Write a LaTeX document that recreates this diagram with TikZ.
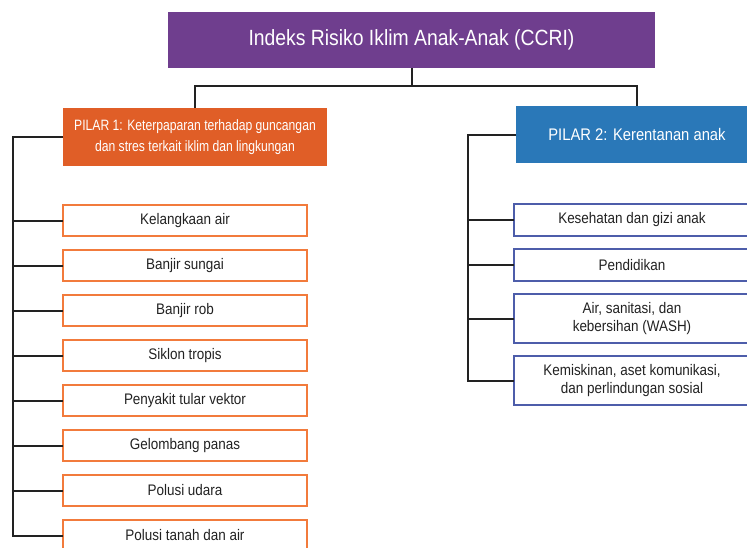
\documentclass[tikz,border=0pt]{standalone}
\usepackage{fontspec}
\setmainfont{Liberation Sans}[FakeStretch=0.88]
\newfontfamily\narrowsans{Liberation Sans}[FakeStretch=0.81]
\usetikzlibrary{positioning}
\definecolor{CcriPurple}{HTML}{6F3E8E}
\definecolor{PillarOrange}{HTML}{E05E27}
\definecolor{PillarBlue}{HTML}{2A78B8}
\definecolor{ItemOrange}{HTML}{F27B3C}
\definecolor{ItemBlue}{HTML}{4D5DAA}
\definecolor{LinkGray}{HTML}{222222}
\definecolor{TextGray}{HTML}{222222}

\begin{document}
\begin{tikzpicture}[x=1pt, y=-1pt, node distance=14pt,
  every node/.style={font=\fontsize{15.3}{18}\selectfont, align=center, inner sep=0pt, outer sep=0pt},
  link/.style={draw=LinkGray, line width=2pt},
  orangeitem/.style={draw=ItemOrange, line width=1.8pt, fill=white, text=TextGray, minimum width=244pt, minimum height=31pt},
  blueitem/.style={draw=ItemBlue, line width=1.8pt, fill=white, text=TextGray, minimum width=236pt, minimum height=32pt}]
  \useasboundingbox (0,0) rectangle (747,547);
  \clip (0,0) rectangle (747,547);
  % top and the two pillars
  \node[fill=CcriPurple, text=white, minimum width=487pt, minimum height=56pt, font=\fontsize{22}{26}\selectfont] (ccri) at (411.5,40) {Indeks Risiko Iklim Anak-Anak (CCRI)};
  \node[fill=PillarOrange, text=white, minimum width=264pt, minimum height=58pt, font=\narrowsans\fontsize{15}{21}\selectfont] (pilar1) at (195,137) {PILAR 1: Keterpaparan terhadap guncangan\\dan stres terkait iklim dan lingkungan};
  \node[fill=PillarBlue, text=white, minimum width=242pt, minimum height=57pt, font=\fontsize{16.8}{20}\selectfont] (pilar2) at (637,134.5) {PILAR 2: Kerentanan anak};
  \coordinate (split) at (411.5,86);
  \draw[link] (ccri.south) -- (split);
  \draw[link] (pilar1.north) |- (split) -| (pilar2.north);
  % pilar 1 items
  \node[orangeitem] (l1) at (185,220.5) {Kelangkaan air};
  \node[orangeitem, below=of l1] (l2) {Banjir sungai};
  \node[orangeitem, below=of l2] (l3) {Banjir rob};
  \node[orangeitem, below=of l3] (l4) {Siklon tropis};
  \node[orangeitem, below=of l4] (l5) {Penyakit tular vektor};
  \node[orangeitem, below=of l5] (l6) {Gelombang panas};
  \node[orangeitem, below=of l6] (l7) {Polusi udara};
  \node[orangeitem, below=of l7] (l8) {Polusi tanah dan air};
  \coordinate (ltrunk) at (13,137);
  \draw[link] (pilar1.west) -- (ltrunk) |- (l8.west);
  \foreach \i in {1,...,7}
    \draw[link] (l\i.west) -- (l\i.west -| ltrunk);
  % pilar 2 items
  \node[blueitem] (r1) at (632,220) {Kesehatan dan gizi anak};
  \node[blueitem, below=13pt of r1] (r2) {Pendidikan};
  \node[blueitem, below=13pt of r2, minimum height=49pt] (r3) {Air, sanitasi, dan\\kebersihan (WASH)};
  \node[blueitem, below=13pt of r3, minimum height=49pt] (r4) {Kemiskinan, aset komunikasi,\\dan perlindungan sosial};
  \coordinate (rtrunk) at (468,134.5);
  \draw[link] (pilar2.west) -- (rtrunk) |- (r4.west);
  \foreach \i in {1,...,3}
    \draw[link] (r\i.west) -- (r\i.west -| rtrunk);
\end{tikzpicture}
\end{document}
